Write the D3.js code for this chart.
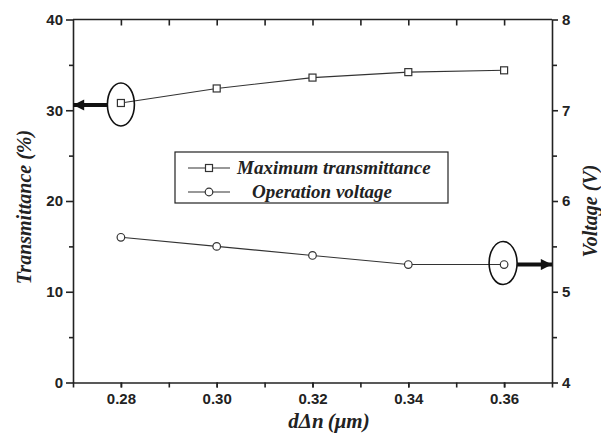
<!DOCTYPE html>
<html>
<head>
<meta charset="utf-8">
<script src="https://cdn.jsdelivr.net/npm/d3@7"></script>
<style>
  body { margin: 0; background: #fff; }
  .tick text { font-family: "Liberation Sans", Arial, sans-serif; font-weight: bold; font-size: 15px; fill: #222; }
  .domain, .tick line { stroke: #222; stroke-width: 1.6px; }
</style>
</head>
<body>
<div id="chart"></div>
<script>
// values
const dAn = [0.28, 0.30, 0.32, 0.34, 0.36];
const transmittance = [30.8, 32.4, 33.6, 34.2, 34.4];
const voltage = [5.6, 5.5, 5.4, 5.3, 5.3];
const xTicks = [0.28, 0.30, 0.32, 0.34, 0.36];
const yLeftTicks = [0, 10, 20, 30, 40];
const yRightTicks = [4, 5, 6, 7, 8];

const width = 601, height = 442;
const m = { left: 73, right: 552, top: 19.5, bottom: 382.5 };
const serif = "Liberation Serif, DejaVu Serif, serif";

const svg = d3.select("#chart").append("svg")
  .attr("width", width).attr("height", height);

const x = d3.scaleLinear().domain([0.27, 0.37]).range([m.left, m.right]);
const yL = d3.scaleLinear().domain([0, 40]).range([m.bottom, m.top]);
const yR = d3.scaleLinear().domain([4, 8]).range([m.bottom, m.top]);

// minor ticks (half steps)
const xMinor = d3.range(0.27, 0.3701, 0.01).map(v => +v.toFixed(2));
const yLMinor = d3.range(5, 40, 10);
const yRMinor = d3.range(4.5, 8, 1);

function minor(g, axis) { g.call(axis); g.selectAll("text").remove(); g.select(".domain").remove(); }

// bottom
svg.append("g").attr("transform", `translate(0,${m.bottom})`)
  .call(minor, d3.axisBottom(x).tickValues(xMinor).tickSize(5));
svg.append("g").attr("transform", `translate(0,${m.bottom})`)
  .call(d3.axisBottom(x).tickValues(xTicks).tickSize(5).tickSizeOuter(0).tickPadding(6).tickFormat(d3.format(".2f")));
// top
svg.append("g").attr("transform", `translate(0,${m.top})`)
  .call(minor, d3.axisBottom(x).tickValues(xMinor.filter(v => v > 0.27 && v < 0.37)).tickSize(6));
svg.append("line").attr("x1", m.left).attr("x2", m.right).attr("y1", m.top).attr("y2", m.top)
  .attr("stroke", "#222").attr("stroke-width", 1.6);
// left
svg.append("g").attr("transform", `translate(${m.left},0)`)
  .call(minor, d3.axisLeft(yL).tickValues(yLMinor).tickSize(4));
svg.append("g").attr("transform", `translate(${m.left},0)`)
  .call(d3.axisLeft(yL).tickValues(yLeftTicks).tickSize(7).tickSizeOuter(0).tickPadding(3));
// right
svg.append("g").attr("transform", `translate(${m.right},0)`)
  .call(minor, d3.axisRight(yR).tickValues(yRMinor).tickSize(5));
svg.append("g").attr("transform", `translate(${m.right},0)`)
  .call(d3.axisRight(yR).tickValues(yRightTicks).tickSize(6).tickSizeOuter(0).tickPadding(4).tickFormat(d3.format("d")));

// series lines
const lineT = d3.line().x((d, i) => x(dAn[i])).y(d => yL(d));
const lineV = d3.line().x((d, i) => x(dAn[i])).y(d => yR(d));
svg.append("path").attr("d", lineT(transmittance)).attr("fill", "none").attr("stroke", "#333").attr("stroke-width", 1.1);
svg.append("path").attr("d", lineV(voltage)).attr("fill", "none").attr("stroke", "#333").attr("stroke-width", 1.1);

const sq = 7;
svg.selectAll("rect.mk").data(transmittance).enter().append("rect").attr("class", "mk")
  .attr("x", (d, i) => x(dAn[i]) - sq / 2).attr("y", d => yL(d) - sq / 2)
  .attr("width", sq).attr("height", sq)
  .attr("fill", "#fff").attr("stroke", "#333").attr("stroke-width", 1.2);
svg.selectAll("circle.mk").data(voltage).enter().append("circle").attr("class", "mk")
  .attr("cx", (d, i) => x(dAn[i])).attr("cy", d => yR(d)).attr("r", 3.8)
  .attr("fill", "#fff").attr("stroke", "#333").attr("stroke-width", 1.2);

// ellipses + arrows
const defs = svg.append("defs");
defs.append("marker").attr("id", "ah").attr("viewBox", "0 0 10 10")
  .attr("refX", 10).attr("refY", 5).attr("markerWidth", 5).attr("markerHeight", 2.8)
  .attr("markerUnits", "strokeWidth").attr("orient", "auto")
  .append("path").attr("d", "M0,0 L10,5 L0,10 Z").attr("fill", "#111");

const eL = { cx: x(dAn[0]), cy: yL(transmittance[0]) + 1.5 };
svg.append("ellipse").attr("cx", eL.cx).attr("cy", eL.cy).attr("rx", 13.5).attr("ry", 21.5)
  .attr("fill", "none").attr("stroke", "#111").attr("stroke-width", 1.6);
svg.append("line").attr("x1", eL.cx - 13.5).attr("y1", yL(transmittance[0]) + 2)
  .attr("x2", m.left).attr("y2", yL(transmittance[0]) + 2)
  .attr("stroke", "#111").attr("stroke-width", 4).attr("marker-end", "url(#ah)");

const eR = { cx: x(dAn[4]) - 1, cy: yR(voltage[4]) - 1.5 };
svg.append("ellipse").attr("cx", eR.cx).attr("cy", eR.cy).attr("rx", 14).attr("ry", 21.5)
  .attr("fill", "none").attr("stroke", "#111").attr("stroke-width", 1.6);
svg.append("line").attr("x1", eR.cx + 14).attr("y1", yR(voltage[4]))
  .attr("x2", m.right).attr("y2", yR(voltage[4]))
  .attr("stroke", "#111").attr("stroke-width", 4).attr("marker-end", "url(#ah)");

// legend
const lg = svg.append("g");
lg.append("rect").attr("x", 175).attr("y", 152).attr("width", 273).attr("height", 51)
  .attr("fill", "#fff").attr("stroke", "#222").attr("stroke-width", 1.2);
const legendItems = [
  { label: "Maximum transmittance", shape: "square", y: 168, tx: 237 },
  { label: "Operation voltage", shape: "circle", y: 192, tx: 252 }
];
legendItems.forEach(it => {
  lg.append("line").attr("x1", 188).attr("x2", 230).attr("y1", it.y).attr("y2", it.y)
    .attr("stroke", "#333").attr("stroke-width", 1.1);
  if (it.shape === "square") {
    lg.append("rect").attr("x", 209 - 3.5).attr("y", it.y - 3.5).attr("width", 7).attr("height", 7)
      .attr("fill", "#fff").attr("stroke", "#333").attr("stroke-width", 1.2);
  } else {
    lg.append("circle").attr("cx", 209).attr("cy", it.y).attr("r", 3.8)
      .attr("fill", "#fff").attr("stroke", "#333").attr("stroke-width", 1.2);
  }
  lg.append("text").attr("x", it.tx).attr("y", it.y + 6)
    .attr("font-family", serif).attr("font-weight", "bold").attr("font-style", "italic")
    .attr("font-size", 19).attr("fill", "#222").text(it.label);
});

// axis titles
function title(sel, size) {
  return sel.attr("text-anchor", "middle")
    .attr("font-family", serif).attr("font-weight", "bold").attr("font-style", "italic")
    .attr("font-size", size).attr("fill", "#222");
}
svg.append("text").call(title, 20)
  .attr("transform", "translate(31,207) rotate(-90)")
  .text("Transmittance (%)");
svg.append("text").call(title, 20)
  .attr("transform", "translate(597,211) rotate(-90)")
  .text("Voltage (V)");
const xt = svg.append("text").call(title, 21)
  .attr("x", 329).attr("y", 428);
xt.append("tspan").text("d\u0394n");
xt.append("tspan").attr("dx", 4).text("(\u03bcm)");
</script>
</body>
</html>
